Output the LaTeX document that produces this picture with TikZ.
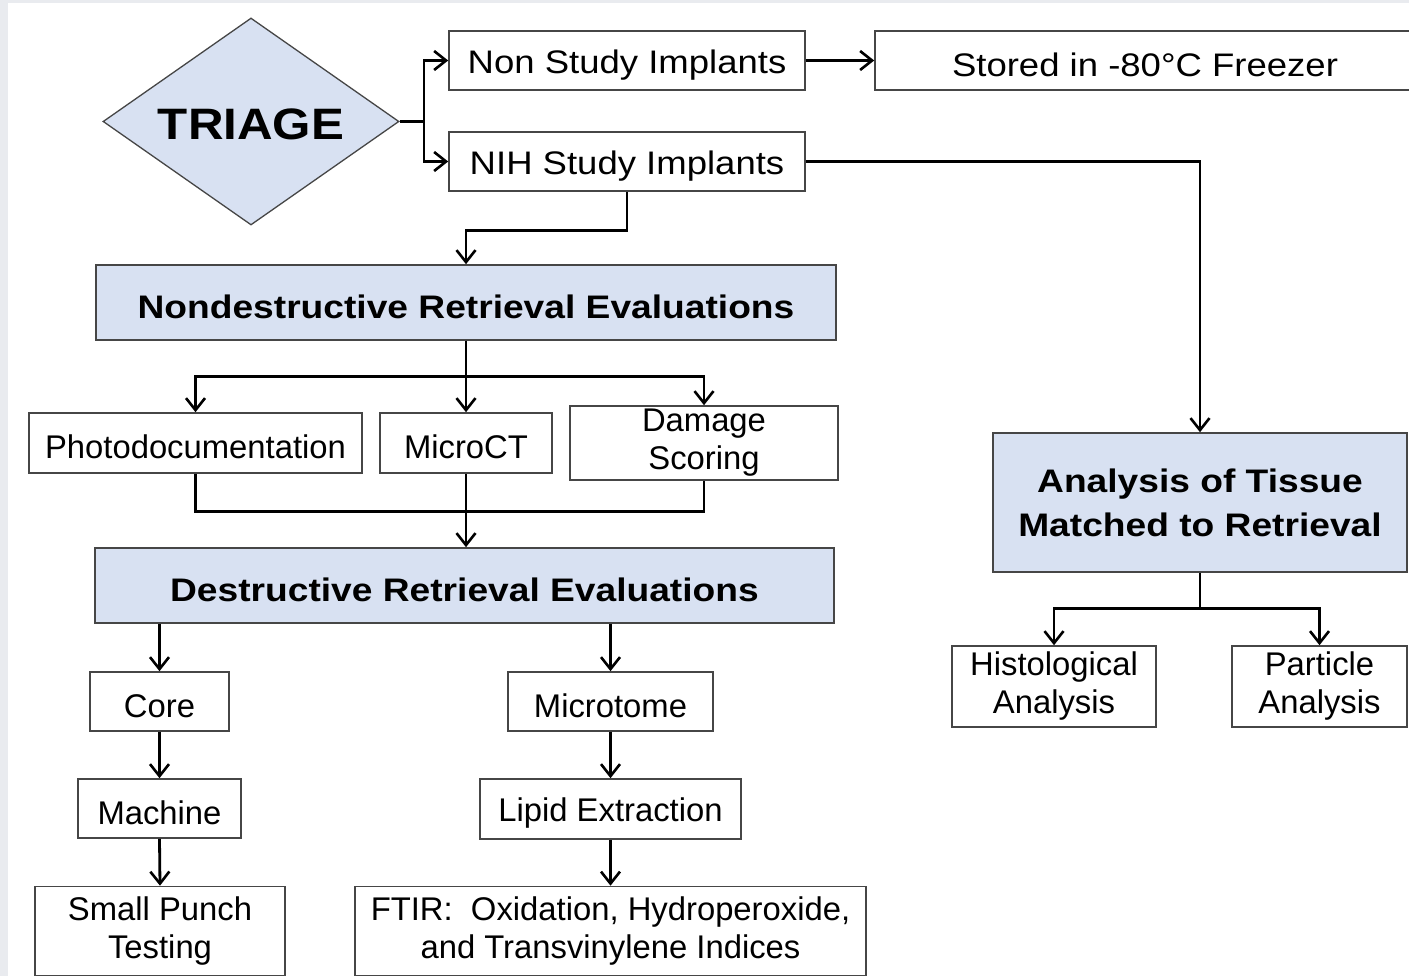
\documentclass[tikz,border=0pt]{standalone}
\usepackage{fontspec}
\setmainfont{Liberation Sans}
\newfontfamily\widefont{Liberation Sans}[FakeStretch=1.12]
\newfontfamily\boldwide{Liberation Sans}[FakeStretch=1.14]
\usetikzlibrary{arrows.meta,shapes.geometric}
\definecolor{boxblue}{RGB}{216,225,242}
\definecolor{bggray}{RGB}{233,235,239}
\definecolor{edgegray}{RGB}{70,70,70}
\begin{document}
\begin{tikzpicture}[x=1pt,y=-1pt,
  box/.style={draw=edgegray, line width=1.6pt, fill=white, inner sep=0pt, align=center,
    font=\fontsize{32.8}{38}\selectfont, text=black,
    execute at begin node={\rule{0pt}{32pt}}},
  topbox/.style={box, font=\fontsize{32.6}{38}\widefont},
  bluebox/.style={box, fill=boxblue, font=\fontsize{32.6}{44}\boldwide\bfseries},
  decision/.style={diamond, draw=edgegray, line width=1.3pt, fill=boxblue, inner sep=0pt,
    aspect=1.43, text height=45pt, text depth=8pt, text=black},
  link/.style={draw=black, line width=2.8pt},
  arr/.style={link, -{Straight Barb[length=12pt,width=19pt,line width=2.6pt]}}
]
\useasboundingbox (0,0) rectangle (1409,976);
\fill[bggray] (0,0) rectangle (1409,976);
\fill[white] (8,3) rectangle (1409,976);

% triage
\node[decision, minimum width=296pt, minimum height=207pt,
  font=\fontsize{44}{44}\widefont\bfseries] (tri) at (251,121.5) {TRIAGE};

% top row
\node[topbox, minimum width=356pt, minimum height=59pt] (ns) at (627,60.5) {Non Study Implants};
\node[topbox, minimum width=356pt, minimum height=59pt] (nih) at (627,161.5) {NIH Study Implants};
\node[topbox, minimum width=540pt, minimum height=59pt] (st) at (1145,60.5) {Stored in -80°C Freezer};

% nondestructive
\node[bluebox, minimum width=740pt, minimum height=75pt] (nd) at (466,302.5) {Nondestructive Retrieval Evaluations};
\node[box, minimum width=333pt, minimum height=60pt] (photo) at (195.5,443) {Photodocumentation};
\node[box, minimum width=172pt, minimum height=60pt] (micro) at (466,443) {MicroCT};
\node[box, minimum width=268pt, minimum height=74pt] (dmg) at (704,443) {Damage\\Scoring};

% destructive
\node[bluebox, minimum width=739pt, minimum height=75pt] (de) at (464.5,585.5) {Destructive Retrieval Evaluations};
\node[box, minimum width=139pt, minimum height=59pt] (core) at (159.5,701.5) {Core};
\node[box, minimum width=163pt, minimum height=59pt] (mach) at (159.5,808.5) {Machine};
\node[box, minimum width=250pt, minimum height=89pt] (punch) at (160,931) {Small Punch\\Testing};
\node[box, minimum width=205pt, minimum height=59pt] (mtome) at (610.5,701.5) {Microtome};
\node[box, minimum width=261pt, minimum height=60pt] (lipid) at (610.5,809) {Lipid Extraction};
\node[box, minimum width=511pt, minimum height=89pt] (ftir) at (610.5,931) {FTIR:~ Oxidation, Hydroperoxide,\\and Transvinylene Indices};

% tissue analysis
\node[bluebox, minimum width=414pt, minimum height=139pt] (ana) at (1200,502.5) {Analysis of Tissue\\Matched to Retrieval};
\node[box, minimum width=204pt, minimum height=81pt] (hist) at (1054,686.5) {Histological\\Analysis};
\node[box, minimum width=175pt, minimum height=81pt] (part) at (1319.5,686.5) {Particle\\Analysis};

% connectors
\coordinate (trunk) at (424,121.5);
\draw[link] (tri.east) -- (trunk);
\draw[arr] (trunk) |- (ns.west);
\draw[arr] (trunk) |- (nih.west);
\draw[arr] (ns.east) -- (st.west);
\draw[arr] (nih.east) -| (ana.north);
\draw[arr] (nih.south) -- ++(0,39) -| (nd.north);

\draw[arr] (nd.south) -- ++(0,36) -| (photo.north);
\draw[arr] (nd.south) -- ++(0,36) -| (dmg.north);
\draw[arr] (nd.south) -- (micro.north);

\draw[link] (photo.south) -- ++(0,38) -| (dmg.south);
\draw[arr] (micro.south) -- (micro.south |- de.north);

\draw[arr] (core.north |- de.south) -- (core.north);
\draw[arr] (core.south) -- (mach.north);
\draw[arr] (mach.south) -- (punch.north);
\draw[arr] (mtome.north |- de.south) -- (mtome.north);
\draw[arr] (mtome.south) -- (lipid.north);
\draw[arr] (lipid.south) -- (ftir.north);

\draw[arr] (ana.south) -- ++(0,36) -| (hist.north);
\draw[arr] (ana.south) -- ++(0,36) -| (part.north);
\end{tikzpicture}
\end{document}
